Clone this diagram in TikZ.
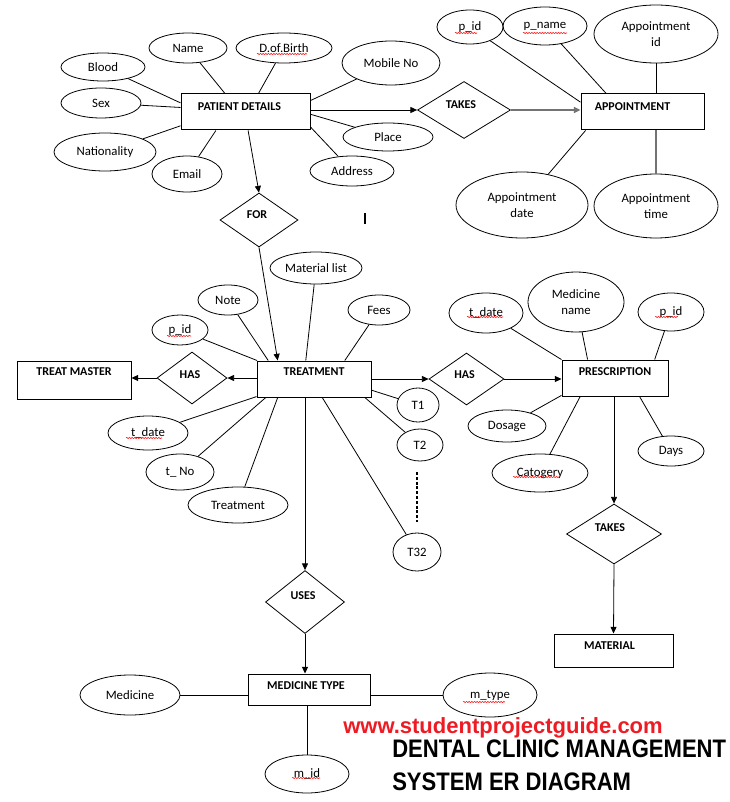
\documentclass[tikz,border=0pt]{standalone}
\usepackage{fontspec}
\setmainfont{Carlito}
\newfontfamily\titlefont{Liberation Sans}[FakeStretch=0.87]
\newfontfamily\webfont{Liberation Sans}
\usetikzlibrary{shapes.geometric,arrows.meta,decorations.pathmorphing}
\definecolor{webred}{RGB}{237,28,36}
\begin{document}
\begin{tikzpicture}[x=0.75pt,y=-0.75pt,
  ent/.style n args={3}{draw, rectangle, line width=0.75pt, inner sep=0pt,
    minimum width=#1*0.75pt, minimum height=#2*0.75pt,
    font=\fontsize{9}{10}\selectfont\bfseries, text height=5.8pt, text depth=#3*1.5pt},
  dia/.style n args={3}{draw, diamond, line width=0.6pt, inner sep=0pt,
    minimum width=#1*0.75pt, minimum height=#2*0.75pt,
    font=\fontsize{9}{10}\selectfont\bfseries, text height=5.8pt, text depth=#3*1.5pt},
  att/.style 2 args={draw, ellipse, line width=0.6pt, inner sep=0pt,
    minimum width=#1*0.75pt, minimum height=#2*0.75pt,
    font=\fontsize{9.6}{11.5}\selectfont, align=center},
  ln/.style={line width=0.6pt},
  grayln/.style={line width=1.1pt, draw=black!55},
  arr/.style={ln, -{Triangle[length=5pt,width=4.5pt]}},
  squig/.style={draw=red, line width=0.4pt, decorate,
    decoration={snake, amplitude=0.45pt, segment length=2pt}},
  title/.style={anchor=base west, inner sep=0pt, font=\titlefont\bfseries\fontsize{19}{24}\selectfont}
]
\fill[white] (0,0) rectangle (729,802);
\useasboundingbox (0,0) rectangle (729,802);

% entities
\node[ent={129}{36}{5}] (pd) at (245.5,112) {PATIENT DETAILS\hspace*{9pt}};
\node[ent={123}{36}{5}] (ap) at (642.5,112) {APPOINTMENT\hspace*{15pt}};
\node[ent={114}{36}{7}] (tr) at (314,379) {TREATMENT};
\node[ent={114}{38}{8}] (tm) at (74,380) {TREAT MASTER};
\node[ent={106}{36}{6}] (pr) at (615,378) {PRESCRIPTION};
\node[ent={122}{31}{3.5}] (mt) at (309,689.5) {MEDICINE TYPE\hspace*{4.5pt}};
\node[ent={119}{33}{4.5}] (mat) at (613.5,650.5) {MATERIAL\hspace*{6pt}};

% relationships
\node[dia={93}{57}{5}] (tk1) at (464,110) {TAKES\hspace*{4.5pt}};
\node[dia={78}{54}{5}] (fr) at (259,220) {FOR\hspace*{3pt}};
\node[dia={70}{52}{3}] (has1) at (192,378) {HAS\hspace*{3pt}};
\node[dia={75}{52}{4}] (has2) at (466.5,379) {HAS\hspace*{3pt}};
\node[dia={79}{63}{6}] (uses) at (305,602) {USES\hspace*{3pt}};
\node[dia={95}{60}{6}] (tk2) at (614,534) {TAKES\hspace*{6pt}};

% patient attributes
\node[att={84}{28}] (blood) at (103,67) {Blood};
\node[att={78}{30}] (name) at (188,48) {Name};
\node[att={96}{30}] (dob) at (284,48) {D.of.Birth};
\node[att={98}{44}] (mobile) at (391,63) {Mobile No};
\node[att={80}{30}] (sex) at (101,103) {Sex};
\node[att={102}{38}] (nat) at (105,152) {Nationality};
\node[att={70}{36}] (email) at (187,174) {Email};
\node[att={90}{28}] (place) at (388,137) {Place};
\node[att={84}{30}] (addr) at (352,171) {Address};

% appointment attributes
\node[att={66}{34}] (apid) at (470,27) {p\_id};
\node[att={84}{38}] (apname) at (545,26) {p\_name};
\node[att={124}{58}] (appid) at (656,34) {Appointment\\id};
\node[att={132}{66}] (appdate) at (522,205) {Appointment\\date};
\node[att={124}{64}] (apptime) at (656,206) {Appointment\\time};

% treatment attributes
\node[att={92}{32}] (matlist) at (316,268) {Material list};
\node[att={60}{30}] (note) at (228,300) {Note};
\node[att={56}{30}] (tpid) at (180,330) {p\_id};
\node[att={62}{30}] (fees) at (379,310) {Fees};
\node[att={80}{34}] (tdate) at (148,433) {t\_date};
\node[att={68}{36}] (tno) at (180,472) {t\_ No};
\node[att={100}{36}] (treat) at (238,505) {Treatment};
\node[att={42}{34}] (t1) at (418,405) {T1};
\node[att={46}{32}] (t2) at (420,445) {T2};
\node[att={48}{38}] (t32) at (417,552) {T32};
\coordinate (dtop) at (417,472);
\coordinate (dbot) at (417,522);

% prescription attributes
\node[att={74}{40}] (prtdate) at (486,313) {t\_date};
\node[att={96}{60}] (medname) at (576,302) {Medicine\\name};
\node[att={66}{38}] (prpid) at (671,312) {p\_id};
\node[att={78}{32}] (dosage) at (507,426) {Dosage};
\node[att={96}{38}] (cat) at (540,473) {Catogery};
\node[att={66}{30}] (days) at (671,451) {Days};

% medicine type attributes
\node[att={100}{40}] (medicine) at (130,695) {Medicine};
\node[att={94}{44}] (mtype) at (490,695) {m\_type};
\node[att={84}{38}] (mid) at (307,774) {m\_id};

% cursor mark
\node[inner sep=0pt] (cursor) at (365,218.5) {\rule{1.6pt}{8.2pt}};

% patient lines
\draw[ln] (blood) -- (pd.172);
\draw[ln] (name) -- (pd.138.7);
\draw[ln] (dob) -- (pd.55.2);
\draw[ln] (mobile) -- (pd.10.5);
\draw[ln] (sex) -- (pd.176.5);
\draw[ln] (nat) -- (pd.192);
\draw[ln] (email) -- (pd.212.3);
\draw[ln] (place) -- (pd.358.2);
\draw[ln] (addr) -- (pd.347);
\draw[arr] (pd.east |- tk1.west) -- (tk1.west);
\draw[arr, grayln] (tk1.east) -- (tk1.east -| ap.west);
\draw[arr] (pd.278) -- (fr.north);

% appointment lines
\draw[ln] (apid) -- (ap.171.7);
\draw[ln] (apname) -- (ap.153.7);
\draw[ln] (appid.south) -- (appid.south |- ap.north);
\draw[ln] (appdate) -- (ap.198.3);
\draw[grayln] (apptime.north) -- (apptime.north |- ap.south);

% treatment lines
\draw[arr] (fr.south) -- (tr.153.4);
\draw[ln] (matlist) -- (tr.114);
\draw[ln] (note) -- (tr.158.2);
\draw[ln] (tpid) -- (tr.162.5);
\draw[ln] (fees) -- (tr.31.8);
\draw[ln] (tdate) -- (tr.197);
\draw[ln] (tno) -- (tr.201.8);
\draw[ln] (treat) -- (tr.207.2);
\draw[ln] (t1) -- (tr.349);
\draw[ln] (t2) -- (tr.340.6);
\draw[ln] (t32) -- (tr.294);
\draw[line width=2.2pt, dash pattern=on 2.2pt off 1.4pt] (dtop) -- (dbot);
\draw[arr] (tr.west |- has1.east) -- (has1.east);
\draw[arr] (has1.west) -- (has1.west -| tm.east);
\draw[arr] (tr.east |- has2.west) -- (has2.west);
\draw[arr] (has2.east) -- (has2.east -| pr.west);
\draw[arr] (tr.south -| uses.north) -- (uses.north);

% prescription lines
\draw[ln] (prtdate) -- (pr.161.2);
\draw[ln] (medname) -- (pr.146.3);
\draw[ln] (prpid) -- (pr.25.3);
\draw[ln] (dosage) -- (pr.198.8);
\draw[ln] (cat) -- (pr.208.6);
\draw[ln] (days) -- (pr.323.1);
\draw[arr] (pr.south -| tk2.north) -- (tk2.north);
\draw[arr] (tk2.south) -- (mat.north);

% medicine type lines
\draw[arr] (uses.south) -- (uses.south |- mt.north);
\draw[ln] (medicine.east) -- (medicine.east -| mt.west);
\draw[ln] (mt.east |- mtype.west) -- (mtype.west);
\draw[ln] (mid.north) -- (mid.north |- mt.south);

% spell-check squiggles
\draw[squig] ([shift={(-27,6)}]dob.center) -- ++(50,0);
\draw[squig] ([shift={(-15,6)}]apid.center) -- ++(22,0);
\draw[squig] ([shift={(-22,7)}]apname.center) -- ++(44,0);
\draw[squig] ([shift={(-13,6)}]tpid.center) -- ++(24,0);
\draw[squig] ([shift={(-22,5)}]tdate.center) -- ++(36,0);
\draw[squig] ([shift={(-19,4)}]prtdate.center) -- ++(36,0);
\draw[squig] ([shift={(-16,5)}]prpid.center) -- ++(23,0);
\draw[squig] ([shift={(-27,4)}]cat.center) -- ++(46,0);
\draw[squig] ([shift={(-27,7)}]mtype.center) -- ++(42,0);
\draw[squig] ([shift={(-15,4)}]mid.center) -- ++(28,0);

% titles
\node[anchor=base west, inner sep=0pt, text=webred,
  font=\webfont\bfseries\fontsize{16.5}{18}\selectfont] (web) at (343,733) {www.studentprojectguide.com};
\node[title] (title1) at (392,757) {DENTAL CLINIC MANAGEMENT};
\node[title] (title2) at (392,790) {SYSTEM ER DIAGRAM};
\end{tikzpicture}
\end{document}
